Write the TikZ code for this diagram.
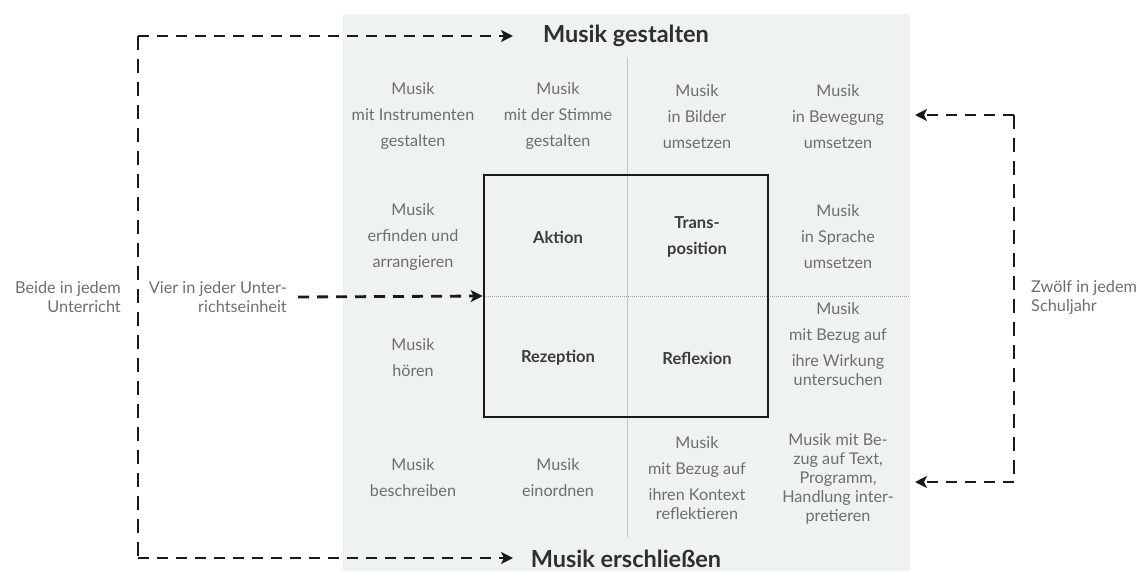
\documentclass[tikz,border=0pt]{standalone}
\usepackage{fontspec}
\setmainfont{Lato}
\usetikzlibrary{arrows.meta}
\definecolor{panel}{HTML}{EEF2F3}
\definecolor{celltxt}{HTML}{6E6E6E}
\definecolor{inner}{HTML}{3C3C3C}
\definecolor{ttlc}{HTML}{2F2F2F}
\definecolor{dashc}{HTML}{1A1A1A}
\definecolor{gridc}{HTML}{C4C8C9}
\begin{document}
\begin{tikzpicture}[x=1pt,y=-1pt,
  cell/.style={align=center, text=celltxt, font=\fontsize{16.2}{19}\selectfont, inner sep=0pt},
  lbl/.style={align=center, text=inner, font=\bfseries\fontsize{16.5}{26}\selectfont, inner sep=0pt},
  ttl/.style={text=ttlc, font=\bfseries\fontsize{23.5}{26}\selectfont, inner sep=0pt},
  side/.style={text=celltxt, font=\fontsize{16.3}{19}\selectfont, inner sep=0pt},
  tip/.tip={Stealth[length=12pt,width=12pt,inset=3pt]},
  hdash/.style={draw=dashc, line width=2.8pt, dash pattern=on 11pt off 8pt},
  vdash/.style={draw=dashc, line width=2.8pt, dash pattern=on 14pt off 9pt},
  boxst/.style={draw=dashc, line width=2.6pt, minimum width=284pt, minimum height=242pt, inner sep=0pt}
]
\useasboundingbox (0,0) rectangle (1143,571);
\fill[panel] (343,14) rectangle (910,571);
% grid lines
\coordinate (vt) at (627,57);
\coordinate (vb) at (627,537);
\coordinate (hl) at (484,296);
\coordinate (hr) at (910,296);
\draw[gridc, line width=0.9pt] (vt) -- (vb);
\draw[gridc!80!black, line width=0.7pt, dash pattern=on 1pt off 1pt] (hl) -- (hr);
% central box
\node[boxst] (box) at (626,296) {};
% titles
\node[ttl] (gest) at (626,36) {Musik gestalten};
\node[ttl] (ersch) at (626,559) {Musik erschließen};
% cells
\node[cell] (c11) at (413,116.5) {Musik\\[7pt]mit Instrumenten\\[7pt]gestalten};
\node[cell] (c12) at (558,116.5) {Musik\\[7pt]mit der Stimme\\[7pt]gestalten};
\node[cell] (c13) at (697,116.5) {Musik\\[7pt]in Bilder\\[7pt]umsetzen};
\node[cell] (c14) at (838,116.5) {Musik\\[7pt]in Bewegung\\[7pt]umsetzen};
\node[cell] (c21) at (413,237) {Musik\\[7pt]erfinden und\\[7pt]arrangieren};
\node[cell] (c24) at (838,237) {Musik\\[7pt]in Sprache\\[7pt]umsetzen};
\node[cell] (c31) at (413,358) {Musik\\[7pt]hören};
\node[cell] (c34) at (838,344.5) {Musik\\[7pt]mit Bezug auf\\[7pt]ihre Wirkung\\untersuchen};
\node[cell] (c41) at (413,478) {Musik\\[7pt]beschreiben};
\node[cell] (c42) at (558,478) {Musik\\[7pt]einordnen};
\node[cell] (c43) at (697,478.5) {Musik\\[7pt]mit Bezug auf\\[7pt]ihren Kontext\\reflektieren};
\node[cell] (c44) at (838,478.5) {Musik mit Be-\\zug auf Text,\\Programm,\\Handlung inter-\\pretieren};
% inner labels
\node[lbl] (akt) at (558,237) {Aktion};
\node[lbl] (tra) at (697,237) {Trans-\\position};
\node[lbl] (rez) at (558,358) {Rezeption};
\node[lbl] (ref) at (697,358) {Reflexion};
% side labels
\node[side, anchor=east, align=right] (beide) at (121,297.5) {Beide in jedem\\Unterricht};
\node[side, anchor=east, align=right] (vier) at (287,297.5) {Vier in jeder Unter-\\richtseinheit};
\node[side, anchor=west, align=left] (zwoelf) at (1031,297.5) {Zwölf in jedem\\Schuljahr};
% left bracket connector
\coordinate (tl) at (138,36);
\coordinate (ta) at (513,36);
\coordinate (bl) at (138,558);
\coordinate (ba) at (513,558);
\draw[hdash, -tip] (tl) -- (ta);
\draw[vdash] (tl) -- (bl);
\draw[hdash, -tip] (bl) -- (ba);
% right bracket connector
\coordinate (rt) at (1014,115);
\coordinate (ra) at (915,115);
\coordinate (rb) at (1014,482);
\coordinate (rc) at (915,482);
\draw[hdash, -tip] (rt) -- (ra);
\draw[vdash] (rt) -- (rb);
\draw[hdash, -tip] (rb) -- (rc);
% middle arrow
\coordinate (ms) at (298,297);
\draw[hdash, -tip] (ms) -- (box.west);
\end{tikzpicture}
\end{document}
